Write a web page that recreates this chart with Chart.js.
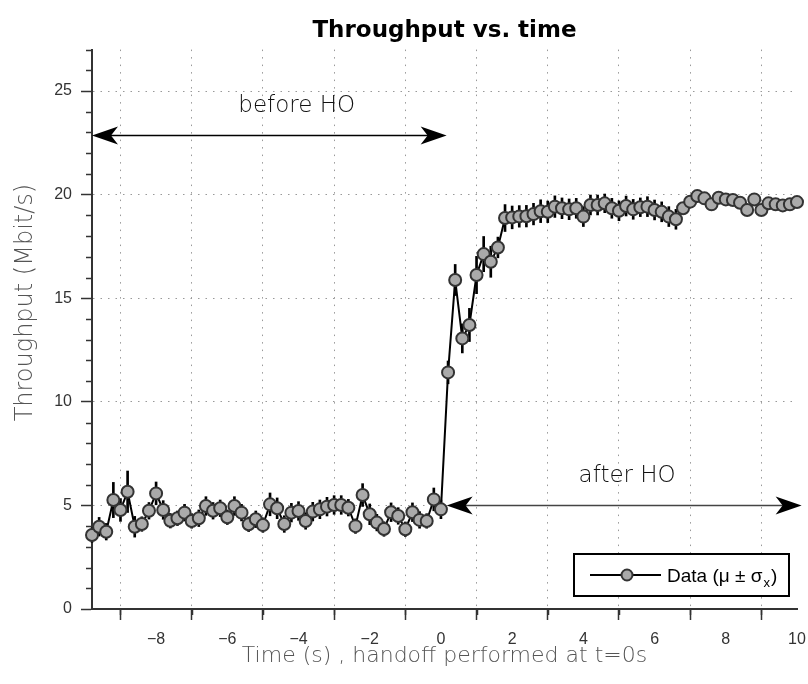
<!DOCTYPE html>
<html>
<head>
<meta charset="utf-8">
<title>Throughput vs. time</title>
<script src="https://cdn.jsdelivr.net/npm/chart.js@4.4.1/dist/chart.umd.min.js"></script>
<style>
  html, body { margin: 0; padding: 0; background: #fff; }
</style>
</head>
<body>
<canvas id="myChart" width="808" height="684"></canvas>
<script>
// time axis (s), one sample every 0.2 s
const times = [
  -9.8, -9.6, -9.4, -9.2, -9.0, -8.8, -8.6, -8.4, -8.2, -8.0,
  -7.8, -7.6, -7.4, -7.2, -7.0, -6.8, -6.6, -6.4, -6.2, -6.0,
  -5.8, -5.6, -5.4, -5.2, -5.0, -4.8, -4.6, -4.4, -4.2, -4.0,
  -3.8, -3.6, -3.4, -3.2, -3.0, -2.8, -2.6, -2.4, -2.2, -2.0,
  -1.8, -1.6, -1.4, -1.2, -1.0, -0.8, -0.6, -0.4, -0.2, 0.0,
  0.2, 0.4, 0.6, 0.8, 1.0, 1.2, 1.4, 1.6, 1.8, 2.0,
  2.2, 2.4, 2.6, 2.8, 3.0, 3.2, 3.4, 3.6, 3.8, 4.0,
  4.2, 4.4, 4.6, 4.8, 5.0, 5.2, 5.4, 5.6, 5.8, 6.0,
  6.2, 6.4, 6.6, 6.8, 7.0, 7.2, 7.4, 7.6, 7.8, 8.0,
  8.2, 8.4, 8.6, 8.8, 9.0, 9.2, 9.4, 9.6, 9.8, 10.0
]

// mean throughput (Mbit/s)
const throughput = [
  3.57, 3.97, 3.73, 5.26, 4.78, 5.66, 3.97, 4.10, 4.74, 5.58,
  4.78, 4.26, 4.38, 4.65, 4.25, 4.38, 4.97, 4.74, 4.86, 4.43,
  4.97, 4.65, 4.09, 4.33, 4.05, 5.05, 4.86, 4.10, 4.65, 4.73,
  4.25, 4.70, 4.81, 4.94, 5.02, 5.02, 4.89, 4.00, 5.50, 4.57,
  4.17, 3.86, 4.67, 4.49, 3.85, 4.67, 4.30, 4.25, 5.29, 4.81,
  11.42, 15.88, 13.06, 13.71, 16.12, 17.13, 16.76, 17.45, 18.87, 18.90,
  18.95, 18.96, 19.06, 19.20, 19.17, 19.42, 19.34, 19.29, 19.34, 18.94,
  19.50, 19.50, 19.58, 19.34, 19.22, 19.45, 19.29, 19.39, 19.42, 19.26,
  19.17, 18.94, 18.81, 19.34, 19.66, 19.93, 19.82, 19.53, 19.85, 19.77,
  19.74, 19.61, 19.26, 19.77, 19.26, 19.58, 19.53, 19.48, 19.53, 19.64
]

// standard deviation (Mbit/s)
const sigma = [
  0.35, 0.45, 0.40, 0.85, 0.55, 1.00, 0.50, 0.35, 0.40, 0.55,
  0.45, 0.35, 0.35, 0.40, 0.35, 0.40, 0.45, 0.40, 0.40, 0.35,
  0.45, 0.40, 0.35, 0.40, 0.35, 0.55, 0.50, 0.40, 0.45, 0.45,
  0.40, 0.45, 0.45, 0.45, 0.45, 0.45, 0.40, 0.35, 0.55, 0.50,
  0.40, 0.35, 0.45, 0.40, 0.35, 0.45, 0.40, 0.35, 0.55, 0.45,
  0.55, 0.75, 0.70, 0.80, 0.90, 0.85, 0.75, 0.50, 0.65, 0.55,
  0.52, 0.52, 0.52, 0.55, 0.52, 0.52, 0.50, 0.50, 0.48, 0.48,
  0.48, 0.48, 0.45, 0.48, 0.48, 0.48, 0.48, 0.45, 0.48, 0.48,
  0.48, 0.48, 0.48, 0.25, 0.20, 0.20, 0.20, 0.20, 0.20, 0.20,
  0.20, 0.20, 0.20, 0.20, 0.20, 0.20, 0.20, 0.20, 0.20, 0.20
]

const xTicks = [-8, -6, -4, -2, 0, 2, 4, 6, 8, 10]
const xMinorTicks = [-9, -7, -5, -3, -1, 1, 3, 5, 7, 9]
const yTicks = [0, 5, 10, 15, 20, 25]
const yMinorTicks = [1, 2, 3, 4, 6, 7, 8, 9, 11, 12, 13, 14, 16, 17, 18, 19, 21, 22, 23, 24, 26, 27]

// annotations (data units)
const beforeArrow = { from: -9.8, to: 0.16, y: 22.85 }
const afterArrow = { from: 0.16, to: 10.13, y: 5.0 }
const beforeLabel = { text: "before HO", x: -4.05, y: 24.3 }
const afterLabel = { text: "after HO", x: 5.23, y: 6.4 }

const tickFont = { family: "'Liberation Sans', Arial, sans-serif", size: 16 }

function arrowHead(ctx, tipX, tipY, dir) {
  ctx.beginPath()
  ctx.moveTo(tipX, tipY)
  ctx.lineTo(tipX - dir * 26, tipY - 9)
  ctx.lineTo(tipX - dir * 19, tipY)
  ctx.lineTo(tipX - dir * 26, tipY + 9)
  ctx.closePath()
  ctx.fill()
}

const extras = {
  id: "extras",
  afterDraw(chart) {
    const ctx = chart.ctx
    const x = chart.scales.x
    const y = chart.scales.y
    const area = chart.chartArea
    ctx.save()

    // minor ticks
    ctx.strokeStyle = "#333"
    ctx.lineWidth = 1.5
    xMinorTicks.forEach(function(v) {
      const px = Math.round(x.getPixelForValue(v)) + 0.5
      ctx.beginPath()
      ctx.moveTo(px, area.bottom)
      ctx.lineTo(px, area.bottom + 6)
      ctx.stroke()
    })
    yMinorTicks.forEach(function(v) {
      const py = Math.round(y.getPixelForValue(v)) + 0.5
      ctx.beginPath()
      ctx.moveTo(area.left - 6, py)
      ctx.lineTo(area.left, py)
      ctx.stroke()
    })

    // before HO arrow
    ctx.strokeStyle = "#000"
    ctx.fillStyle = "#000"
    ctx.lineWidth = 1.5
    let y1 = y.getPixelForValue(beforeArrow.y)
    let a = x.getPixelForValue(beforeArrow.from)
    let b = x.getPixelForValue(beforeArrow.to)
    ctx.beginPath()
    ctx.moveTo(a + 5, y1)
    ctx.lineTo(b - 5, y1)
    ctx.stroke()
    arrowHead(ctx, a, y1, -1)
    arrowHead(ctx, b, y1, 1)

    // after HO arrow
    ctx.strokeStyle = "#444"
    y1 = y.getPixelForValue(afterArrow.y)
    a = x.getPixelForValue(afterArrow.from)
    b = x.getPixelForValue(afterArrow.to)
    ctx.beginPath()
    ctx.moveTo(a + 5, y1)
    ctx.lineTo(b - 5, y1)
    ctx.stroke()
    arrowHead(ctx, a, y1, -1)
    arrowHead(ctx, b, y1, 1)

    // labels
    ctx.fillStyle = "#111"
    ctx.font = "200 23px 'DejaVu Sans', sans-serif"
    ctx.textAlign = "center"
    ctx.textBaseline = "middle"
    ctx.fillText(beforeLabel.text, x.getPixelForValue(beforeLabel.x), y.getPixelForValue(beforeLabel.y))
    ctx.fillText(afterLabel.text, x.getPixelForValue(afterLabel.x), y.getPixelForValue(afterLabel.y))

    // legend box
    const w = 215, h = 42
    const lx = area.right - 8 - w
    const ly = area.bottom - 13 - h
    ctx.fillStyle = "#fff"
    ctx.fillRect(lx, ly, w, h)
    ctx.strokeStyle = "#000"
    ctx.lineWidth = 2
    ctx.strokeRect(lx, ly, w, h)
    const my = ly + 21
    ctx.beginPath()
    ctx.moveTo(lx + 16, my)
    ctx.lineTo(lx + 87, my)
    ctx.stroke()
    ctx.beginPath()
    ctx.arc(lx + 53, my, 5.5, 0, Math.PI * 2)
    ctx.fillStyle = "#a9a9a9"
    ctx.fill()
    ctx.strokeStyle = "#333"
    ctx.stroke()
    ctx.fillStyle = "#000"
    ctx.textAlign = "left"
    ctx.textBaseline = "alphabetic"
    ctx.font = "19px 'Liberation Sans', Arial, sans-serif"
    let tx = lx + 93
    const base = my + 7
    const part1 = "Data (\u03bc \u00b1 \u03c3"
    ctx.fillText(part1, tx, base)
    tx += ctx.measureText(part1).width
    ctx.font = "13px 'Liberation Sans', Arial, sans-serif"
    ctx.fillText("x", tx + 1, base + 5)
    tx += ctx.measureText("x").width + 2
    ctx.font = "19px 'Liberation Sans', Arial, sans-serif"
    ctx.fillText(")", tx, base)

    ctx.restore()
  }
}

const ctx = document.getElementById("myChart").getContext("2d")
const myChart = new Chart(ctx, {
  type: "line",
  data: {
    datasets: [{
      label: "Data (\u03bc \u00b1 \u03c3x)",
      data: times.map(function(t, i) { return { x: t, y: throughput[i] } }),
      borderColor: "#000",
      borderWidth: 2,
      tension: 0,
      pointRadius: 6,
      pointBorderWidth: 2,
      pointBackgroundColor: "#aaaaaa",
      pointBorderColor: "#333",
      clip: false,
      order: 0
    }, {
      type: "bar",
      label: "sigma",
      data: times.map(function(t, i) { return { x: t, y: [throughput[i] - sigma[i], throughput[i] + sigma[i]] } }),
      backgroundColor: "#000",
      barThickness: 2,
      grouped: false,
      clip: false,
      order: 1
    }]
  },
  options: {
    responsive: false,
    animation: false,
    events: [],
    layout: { padding: { left: 0, right: 11, top: 0, bottom: 0 } },
    plugins: {
      legend: { display: false },
      tooltip: { enabled: false },
      title: {
        display: true,
        text: "Throughput vs. time",
        fullSize: false,
        color: "#000",
        font: { family: "'DejaVu Sans', sans-serif", size: 23, weight: "bold" },
        padding: { top: 17, bottom: 5 }
      }
    },
    scales: {
      x: {
        type: "linear",
        min: -9.8,
        max: 10,
        offset: false,
        afterBuildTicks: function(scale) { scale.ticks = xTicks.map(function(v) { return { value: v } }) },
        afterFit: function(scale) {
          scale.height = 75
          scale.paddingLeft = 0
          scale.paddingRight = 0
        },
        ticks: {
          font: tickFont,
          color: "#333",
          padding: 10,
          maxRotation: 0,
          autoSkip: false,
          callback: function(v) { return String(v).replace("-", "\u2212") }
        },
        grid: { color: "#999", lineWidth: 1, tickLength: 11, tickColor: "#333", tickWidth: 1.5 },
        border: { display: true, color: "#333", width: 2, dash: [1.5, 6] },
        title: {
          display: true,
          text: "Time (s) , handoff performed at t=0s",
          color: "#555",
          font: { family: "'DejaVu Sans', sans-serif", size: 22, weight: 200 },
          padding: { top: 0, bottom: 15 }
        }
      },
      y: {
        min: 0,
        max: 27,
        afterBuildTicks: function(scale) { scale.ticks = yTicks.map(function(v) { return { value: v } }) },
        afterFit: function(scale) { scale.width = 92 },
        ticks: { font: tickFont, color: "#333", padding: 9 },
        grid: {
          color: function(c) { return c.tick && c.tick.value === 0 ? "rgba(0,0,0,0)" : "#999" },
          lineWidth: 1, tickLength: 11, tickColor: "#333", tickWidth: 1.5
        },
        border: { display: true, color: "#333", width: 2, dash: [1.5, 6] },
        title: {
          display: true,
          text: "       Throughput (Mbit/s)",
          color: "#555",
          font: { family: "'DejaVu Sans', sans-serif", size: 24, weight: 200 },
          padding: { top: 11, bottom: 0 }
        }
      }
    }
  },
  plugins: [extras]
})
</script>
</body>
</html>
